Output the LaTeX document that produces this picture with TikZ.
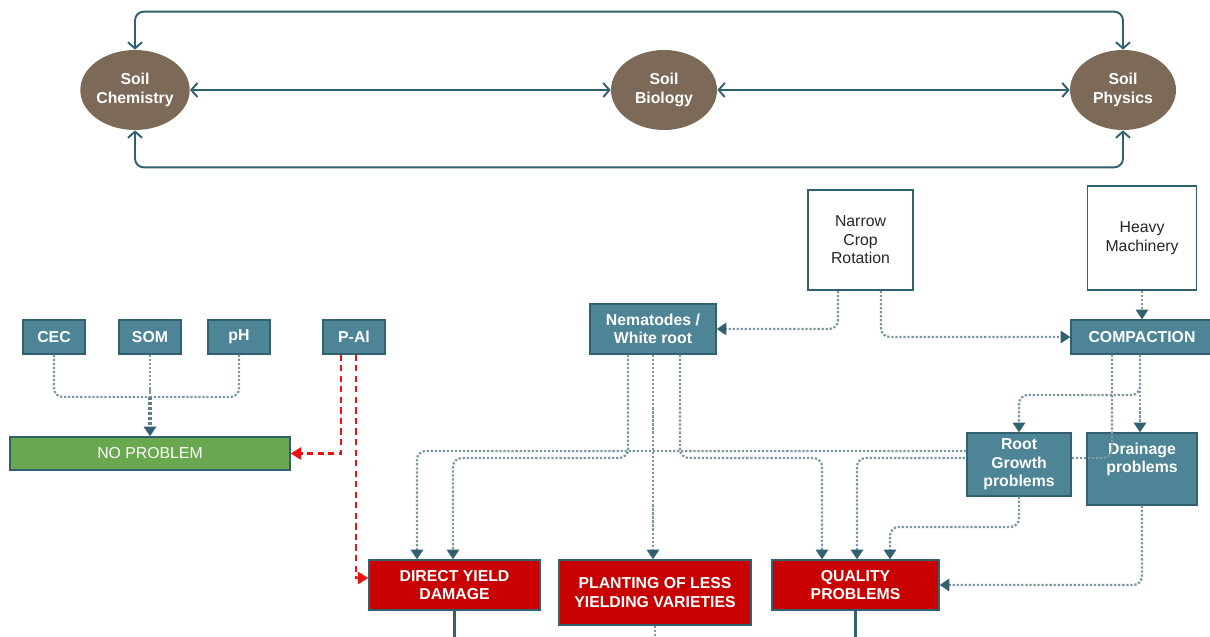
\documentclass[tikz,border=0pt]{standalone}
\usepackage{fontspec}
\setmainfont{Liberation Sans}
\usepackage{tikz}
\usetikzlibrary{shapes.geometric,arrows.meta}

\definecolor{darkteal}{HTML}{31606F}
\definecolor{tealfill}{HTML}{4D8597}
\definecolor{soilbrown}{HTML}{7C6957}
\definecolor{redfill}{HTML}{C80000}
\definecolor{greenfill}{HTML}{6AA84F}
\definecolor{dotgrey}{HTML}{7E98A3}
\definecolor{dashred}{HTML}{F01010}

\begin{document}
\begin{tikzpicture}
		[
			x=0.02cm, y=-0.02cm,
			font=\fontsize{9}{10.5}\selectfont,
			soil/.style = {ellipse, align=center, draw=none, fill=soilbrown, text=white, inner sep=0pt, minimum width=2.12cm, minimum height=1.6cm, font=\fontsize{9}{10.5}\selectfont\bfseries},
			tnode/.style = {rectangle, align=center, draw=darkteal, line width=0.8pt, fill=tealfill, text=white, inner sep=2pt, font=\fontsize{9}{10.5}\selectfont\bfseries},
			rnode/.style = {tnode, fill=redfill},
			gnode/.style = {tnode, fill=greenfill, font=\fontsize{9}{10.5}\selectfont},
			wnode/.style = {rectangle, align=center, draw=darkteal, line width=1pt, fill=white, text=black!85, inner sep=2pt},
			link/.style = {darkteal, line width=1.1pt, rounded corners=5pt},
			pline/.style = {dotgrey, densely dotted, line width=1.3pt, rounded corners=5pt},
			dline/.style = {pline, -{Triangle[color=darkteal, length=5.5pt, width=7pt]}},
			rline/.style = {dashred, dash pattern=on 3.5pt off 2.5pt, line width=1.3pt, -{Triangle[color=dashred, length=6pt, width=7pt]}},
		]

		\useasboundingbox (0,0) rectangle (1210,636);

		% soil circles
		\node[soil] (chem) 	at (  135,  90 ) {Soil\\Chemistry};
		\node[soil] (bio) 	at (  664,  90 ) {Soil\\Biology};
		\node[soil] (phys) 	at ( 1123,  90 ) {Soil\\Physics};

		\draw[link, {Straight Barb[length=3.5pt, width=8pt]}-{Straight Barb[length=3.5pt, width=8pt]}] (chem.north) -- ++(0,-38) -| (phys.north);
		\draw[link, {Straight Barb[length=3.5pt, width=8pt]}-{Straight Barb[length=3.5pt, width=8pt]}] (chem.south) -- ++(0,37) -| (phys.south);
		\foreach \from/\to in {chem/bio,bio/phys}
		\draw[link, {Straight Barb[length=3.5pt, width=8pt]}-{Straight Barb[length=3.5pt, width=8pt]}] (\from) -- (\to);

		% chemistry boxes
		\node[tnode, minimum width=1.24cm, minimum height=0.68cm] (cec) 	at (   54, 337 ) {CEC};
		\node[tnode, minimum width=1.24cm, minimum height=0.68cm] (som) 	at (  150, 337 ) {SOM};
		\node[tnode, minimum width=1.24cm, minimum height=0.68cm] (ph) 	at (  239, 337 ) {pH};
		\node[tnode, minimum width=1.24cm, minimum height=0.68cm] (pal) 	at (  354, 337 ) {P-Al};
		\node[gnode, minimum width=5.6cm, minimum height=0.66cm] (nop) 	at (  150, 453.5 ) {NO PROBLEM};

		% causes
		\node[tnode, minimum width=2.52cm, minimum height=1.0cm] (nem) 	at (  653, 329 ) {Nematodes /\\White root};
		\node[wnode, minimum width=2.1cm, minimum height=2.0cm] (ncr) 	at (  860.5, 240 ) {Narrow\\Crop\\Rotation};
		\node[wnode, minimum width=2.18cm, minimum height=2.08cm] (hm) 	at ( 1142, 238 ) {Heavy\\Machinery};
		\node[tnode, minimum width=2.84cm, minimum height=0.68cm] (comp) 	at ( 1142, 337 ) {COMPACTION};
		\node[tnode, minimum width=2.2cm, minimum height=1.44cm, text depth=0.44cm] (drain) 	at ( 1142, 469 ) {Drainage\\problems};

		% effects
		\node[rnode, minimum width=3.42cm, minimum height=1.0cm] (dyd) 	at (  454.5, 585 ) {DIRECT YIELD\\DAMAGE};
		\node[rnode, minimum width=3.84cm, minimum height=1.3cm] (plv) 	at (  655, 592.5 ) {PLANTING OF LESS\\YIELDING VARIETIES};
		\node[rnode, minimum width=3.34cm, minimum height=1.0cm] (qp) 	at (  855.5, 585 ) {QUALITY\\PROBLEMS};

		\draw[dline] (1112,0 |- comp.south) |- (857,458) -- (857,0 |- qp.north);

		\node[tnode, minimum width=2.08cm, minimum height=1.26cm] (root) 	at ( 1019, 464.5 ) {Root\\Growth\\problems};

		% chemistry links
		\coordinate (jn) at ( 150, 397 );
		\foreach \from in {cec,som,ph}
		\draw[pline] (\from.south) |- (jn);
		\draw[dline, darkteal!80, line width=1.8pt] (jn) -- (nop);
		\draw[rline] (341,0 |- pal.south) |- (nop.east);
		\draw[rline] (356,0 |- pal.south) |- ([yshift=0.14cm]dyd.west);

		% cause links
		\draw[dline] (838,0 |- ncr.south) |- (nem.east);
		\draw[dline] (881,0 |- ncr.south) |- (comp.west);
		\draw[dline] (hm) -- (comp);
		\draw[dline] (628,0 |- nem.south) |- (453,458) -- (453,0 |- dyd.north);
		\draw[dline] (653,0 |- nem.south) -- (653,0 |- plv.north);
		\draw[dline] (680,0 |- nem.south) |- (822,458) -- (822,0 |- qp.north);
		\draw[dline] (1140,0 |- comp.south) |- (1019,395) -- (root.north);
		\draw[dline] (1140,0 |- comp.south) -- (1140,0 |- drain.north);
		\draw[dline] (root.west |- 0,451) -| (417,0 |- dyd.north);
		\draw[dline] (root.south) |- (890,527) -- (890,0 |- qp.north);
		\draw[dline] (drain.south) |- (qp.east);

		% lines leaving the page
		\coordinate (e1) at ( 454.5, 640 );
		\coordinate (e2) at ( 655, 640 );
		\coordinate (e3) at ( 855.5, 640 );
		\draw[link, line width=1.3pt] (dyd.south) -- (e1);
		\draw[pline] (plv.south) -- (e2);
		\draw[link, line width=1.3pt] (qp.south) -- (e3);

		\end{tikzpicture}
\end{document}
